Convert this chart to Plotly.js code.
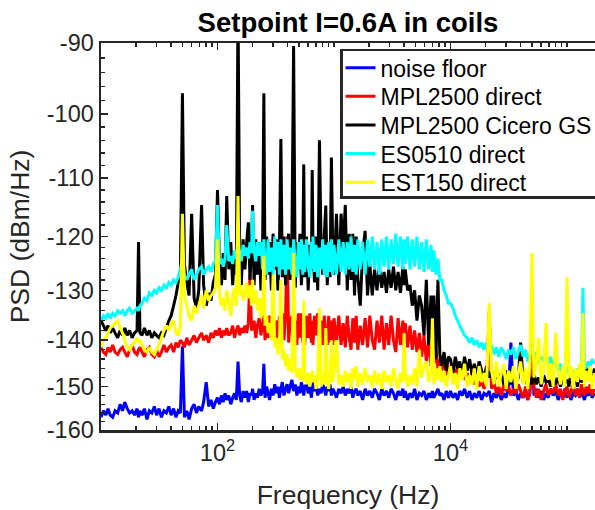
<!DOCTYPE html>
<html>
<head>
<meta charset="utf-8">
<script src="https://cdn.plot.ly/plotly-3.0.1.min.js"></script>
<style>html,body{margin:0;padding:0;background:#fff;}#chart{width:595px;height:510px;}</style>
</head>
<body>
<div id="chart"></div>
<script>
// Frequency grid (Hz)
const freq = [
10,10.5,11,11.5,12, 12.6,13.2,13.9,14.6,15.3, 16,16.8,17.6,18.5,19.4, 20.4,21,21.6,22.5,23.6, 24.8,26,27.3,28.7,30, 31.5,33,34.7,36.4,38.2, 40,42,44,46,48, 50,52,54.5,57,60, 63,66,69,73,76, 80,84,88,92,96,
100,104,108,112,116, 120,125,130,135,140, 145,150,155,160,166, 172,178,184,190,196, 200,206,213,220,228, 236,244,250,256,264, 272,280,290,300,310, 320,330,340,350,360, 372,384,396,408,420, 435,450,465,480,495, 510,525,540,550,560, 580,600,620,640,650, 660,680,700,725,750, 775,800,825,850,875, 900,925,950,975,
1000,1050,1100,1150,1200, 1250,1300,1350,1400,1450, 1500,1550,1600,1680,1760, 1850,1940,2030,2130,2230, 2340,2450,2570,2690,2820, 2950,3090,3240,3390,3550, 3720,3900,4000,4090,4280, 4490,4700,4920,5150,5400, 5650,5920,6200,6500,6800, 7000,7200,7500,7800,8100, 8400,8800,9200,9600,
10000,10500,11000,11500,12000, 12600,13200,13900,14600,15300, 16000,16800,17600,18500,19400, 20400,21500,22500,23600,24800, 26000,27300,28700,30000,31500, 33000,34700,36400,38200,40000, 42000,44000,46000,48000,50000, 52000,54500,57000,60000,63000, 66000,69000,72500,76000,80000, 84000,88000,92000,96000,
100000,104000,108000,113000,118000, 123000,128000,133000,137000,141000, 146000,152000,158000,164000,172000
];

// PSD values (dBm/Hz)
const noiseFloor = [
-157,-155.5,-156.5,-155,-156.5, -157,-155.5,-156,-154,-155.5, -153.5,-155,-156,-155.5,-156.5, -155,-157,-155.5,-156.5,-155, -157.5,-155.5,-156,-154.5,-156.5, -155,-157,-155.5,-156,-154.5, -156.5,-155,-157,-155.5,-156, -141.3,-157,-155.5,-157.5,-155, -154,-156,-154.5,-155.5,-153.5, -149,-154.5,-153,-155,-153.5,
-152.5,-154,-152,-153.5,-151.5, -153,-152,-154,-152.5,-151.5, -153,-144.5,-152,-153.5,-151, -152.5,-151,-153.5,-151.5,-152, -150.5,-153,-151.5,-152.5,-150.5, -152,-151,-145,-152.5,-150, -151.5,-153,-150.5,-152,-149.5, -151.5,-150,-152.5,-150.5,-149, -152,-150.5,-149.5,-151.5,-150, -148.5,-151,-149.5,-152,-150, -151.5,-149,-150.5,-152,-150, -149.5,-151.5,-150,-152.5,-150.5, -149,-151,-150,-152,-150.5, -151.5,-149.5,-150.5,-152,-150, -151,-149.5,-152,-150.5,
-151,-152.5,-150.5,-151.5,-150, -152,-150.5,-151.5,-150,-152.5, -151,-150.5,-152,-151,-153, -150.5,-152,-151,-152.5,-150.5, -151.5,-153,-150.5,-152,-151, -152.5,-150.5,-151.5,-153,-151, -152,-150.5,-152.5,-151,-153, -151.5,-152.5,-150.5,-153,-151.5, -152,-151,-153,-151.5,-152.5, -151,-152.5,-151.5,-150.5,-152, -151.5,-153,-151,-152.5,
-151,-152.5,-151.5,-153,-151, -152,-150.5,-152.5,-151,-153, -151.5,-152.5,-151,-153,-151.5, -152,-151,-153.5,-151.5,-152.5, -151,-153,-151.5,-152.5,-150.5, -140.5,-152,-151,-153,-151.5, -152.5,-151,-153,-151.5,-139.5, -152,-150.5,-152.5,-151,-153, -151.5,-152.5,-150.5,-152,-151, -153,-151.5,-152,-150.5,
-152.5,-151,-153,-151.5,-152, -150.5,-152.5,-151,-152,-153, -151.5,-152,-150.5,-152.5,-151.5
];

const mplDirect = [
-141.5,-142.5,-143,-141.5,-142.5, -141,-142.5,-143,-142,-141.5, -142.5,-143.5,-142,-141,-142.5, -143,-142,-141.5,-142.5,-143.5, -142,-141.5,-143,-143.5,-142, -143.5,-142.5,-141,-142.5,-141.5, -141,-142.5,-140.5,-141.5,-140, -140.5,-141.5,-139.5,-141,-140, -139,-140.5,-139.5,-138.5,-140, -139,-140.5,-138.5,-139.5,-138,
-139,-137.5,-139.5,-138,-139, -137.5,-139,-138.5,-137,-139.5, -138,-137,-139,-137.5,-138.5, -137,-138.5,-136.5,-127,-138, -137.5,-136,-139.5,-137,-135.5, -139,-136.5,-135,-140,-136, -139.5,-135,-137,-134.5,-140, -136,-140.5,-135,-137.5,-134.5, -140,-135,-120,-140.5,-136.5, -135,-140.5,-136,-141,-134.5, -139.5,-134.5,-140.5,-136,-141, -135,-139.5,-134.5,-140.5,-136, -141,-135,-139,-134.5,-140.5, -136,-141,-135,-139.5,-141, -135,-140.5,-136,-141,
-135.5,-140.5,-135,-141,-136.5, -141.5,-135,-139.5,-142,-135.5, -140.5,-135,-142,-137,-141, -135.5,-141.5,-135,-140,-142, -136,-140.5,-135,-142,-136.5, -141,-135,-140,-142.5,-135.5, -141,-136,-142,-136.5,-141.5, -137,-142,-138,-142.5,-138.5, -143.5,-139,-144.5,-140,-145.5, -141,-145,-142,-146,-144, -146.5,-144.5,-147.5,-145.5,
-146.5,-145,-147.5,-146,-148, -146.5,-148.5,-147,-149,-147.5, -149.5,-148,-150,-148.5,-150.5, -149,-134,-150.5,-149,-151.5, -150,-152,-149.5,-151,-150, -152,-150.5,-151.5,-149.5,-151, -152.5,-150,-153,-151.5,-139, -150,-152.5,-150.5,-153,-151, -149.5,-152,-150.5,-151.5,-149.5, -152,-150.5,-153,-151,
-150,-152.5,-151,-149.5,-152, -150.5,-152.5,-149.5,-151,-152, -150,-151.5,-149.5,-152,-150.5
];

const mplCicero = [
-136,-137,-138,-137,-138.5, -137.5,-138.5,-139.5,-138,-139, -137.5,-139,-138,-139.5,-138.5, -138,-121,-138.5,-139,-137.5, -139,-138,-139.5,-138.5,-139, -139.5,-138.5,-139,-137.5,-136, -135,-133,-131,-128.5,-127, -97,-125,-128.5,-131,-116, -131.5,-133.5,-130,-114.5,-129, -133,-130.5,-132,-128.5,-127,
-112,-125,-129,-123,-128, -113,-126,-121,-129,-123, -127,-85,-122,-129,-120.5, -126,-121,-117.5,-128,-122, -114.5,-129,-120.5,-127,-121, -130,-121.5,-97,-128,-120, -127,-121,-130,-119.5,-126, -120.5,-130,-122,-103.8,-127.5, -120,-129,-122,-119.5,-128, -121,-90.4,-129.5,-121,-126, -119.5,-129,-122,-107.8,-127.5, -120,-130,-121.5,-126,-108.7, -122,-128.5,-120,-130,-104, -121.5,-127,-120,-114.6,-129, -121,-127.5,-106.7,-122.5,
-127,-116,-129,-116,-122, -114.5,-130,-119.5,-128,-119.5, -131,-120,-127.5,-133,-123, -119,-131,-125,-131,-126, -130,-125.5,-129.5,-126.5,-130.5, -126,-129.5,-125.5,-130,-126.5, -130.5,-125.5,-129,-126,-130, -129,-133,-130,-136,-131, -133,-139,-128,-141,-131, -143,-131,-144,-128,-143, -145.5,-142.5,-146.5,-143.5,
-144,-147,-143.5,-146,-144.5, -147,-143.5,-146.5,-144,-147.5, -145,-147.5,-144.5,-146.5,-148, -145.5,-148,-146.5,-149,-147, -148.5,-147,-149.5,-146.5,-148, -149.5,-147.5,-149,-148,-140.5, -149,-147.5,-150,-148,-149.5, -147,-149.5,-148,-150,-147.5, -149,-148.5,-150,-147.5,-149.5, -148,-150,-147.5,-149,
-148.5,-150,-147,-149.5,-148, -150,-147.5,-149,-148.5,-147, -145,-148.5,-147,-149,-146
];

const es0510Direct = [
-136,-135,-135.5,-134.5,-135.5, -134.5,-135,-134,-134.5,-134, -135,-134,-133.5,-134.5,-134, -133.5,-134,-133,-132.5,-131.5, -132,-130.5,-131,-130,-130.5, -129.5,-130,-129,-129.5,-128.5, -129,-128,-128.5,-127.5,-126, -124,-127,-128,-127,-126, -128,-127,-126,-125.5,-127, -126,-125.5,-126.5,-125,-124.5,
-114.5,-125,-124,-125.5,-124, -118,-124.5,-123.5,-125,-122.5, -124,-121,-123,-124.5,-121.5, -123.5,-122,-124,-121,-123, -115.5,-122.5,-124.5,-121,-123.5, -121,-126,-120.5,-125.5,-127, -120.5,-126.5,-122,-127,-120, -125.5,-121,-127,-120.5,-126, -121.5,-127,-120.5,-126,-122, -127,-120.5,-125,-127.5,-121, -126,-120.5,-127,-121.5,-126.5, -120.5,-125.5,-127.5,-121,-126, -120,-126.5,-121.5,-127.5,-122, -126,-120.5,-127,-121.5,-127.5, -121,-126.5,-120.5,-127,
-121.5,-127,-120.5,-126.5,-121, -127,-121,-126,-120,-126.5, -121.5,-127,-120.5,-126,-121, -127,-120.5,-125.5,-120,-126, -121,-127,-120.5,-125.5,-120, -126,-120.5,-125,-119.5,-125.5, -120,-126,-120.5,-125,-120, -126,-120.5,-125.5,-120,-126, -121,-126.5,-120.5,-126,-121.5, -126.5,-122.5,-127,-124,-128, -128,-130,-131,-132.5,
-132.5,-133.5,-135,-136,-137, -138,-139,-139.5,-140.5,-139.5, -141,-140,-141.5,-140.5,-142, -140.5,-142.5,-141,-143,-141.5, -143.5,-141.5,-142.5,-144,-142, -143,-141.5,-144,-142.5,-141, -143.5,-142,-144.5,-143,-141.5, -144,-142.5,-145,-143.5,-144.5, -142.5,-145,-143.5,-146,-144.5, -146.5,-145,-147.5,-146,
-147,-145.5,-148,-146.5,-147.5, -146,-147.5,-146,-129.5,-145, -146,-144.5,-145.5,-144,-145
];

const est150Direct = [
-141.5,-140,-139.5,-138.5,-137.5, -137,-136.5,-136,-137.5,-138.5, -140,-141.5,-142,-141,-140.5, -139.5,-140.5,-140,-141,-142, -142.5,-141.5,-142.5,-143,-142, -141,-139.5,-138,-137,-138, -136.5,-136,-138.5,-139,-137, -116,-131,-133,-135,-136, -133,-134.5,-133,-131,-133.5, -130,-132,-131,-130.5,-129.5,
-120.5,-131,-133,-131.5,-134, -130,-132.5,-135,-131,-129.5, -133,-113,-131,-129,-132, -130.5,-128.5,-131.5,-129,-133, -128,-132.5,-130,-134,-131.5, -135.5,-133,-123.5,-137,-135, -138.5,-136.5,-140,-127,-141.5, -139.5,-143,-140.5,-128,-144, -142,-145.5,-143,-146.5,-144, -147,-123,-145.5,-148,-146, -148.5,-146,-149,-132,-147, -149.5,-147,-150,-148,-146.5, -149,-147.5,-150.5,-148,-133.5, -150,-147.5,-149.5,-137.5,-148.5, -150.5,-147.5,-140,-149,
-147,-140,-149.5,-147.5,-150, -146.5,-149,-147,-150.5,-146, -148.5,-145.5,-150,-147,-149.5, -146,-149,-147.5,-150,-146.5, -149.5,-147,-150.5,-146.5,-149, -147.5,-150,-146,-148.5,-150.5, -147,-149,-138.5,-146.5,-150, -147.5,-149.5,-146,-150,-142, -148,-145.5,-144.5,-149,-146.5, -135.5,-149.5,-146,-148.5,-145.5, -149,-146.5,-150,-147.5,
-145.5,-149.5,-147,-150.5,-146, -148.5,-145,-150,-147.5,-149.5, -146,-150.5,-145.5,-149,-147, -150,-132.5,-146.5,-149.5,-144.5, -150,-147,-145,-150.5,-146.5, -149,-145.5,-150.5,-147,-144.5, -149.5,-146,-150.5,-145.5,-123, -148,-145,-139.5,-149.5,-146, -136.5,-148.5,-145,-150,-138.5, -147,-149.5,-145.5,-150,
-127.5,-148,-145.5,-150.5,-146, -149,-145,-148.5,-134.5,-150, -146.5,-149,-145.5,-150.5,-147
];

const seriesNames = ['noise floor', 'MPL2500 direct', 'MPL2500 Cicero GS', 'ES0510 direct', 'EST150 direct'];
const seriesData = [noiseFloor, mplDirect, mplCicero, es0510Direct, est150Direct];
const seriesColors = ['#0000FF', '#FF0000', '#000000', '#00FFFF', '#FFFF00'];

const yTickVals = [-90, -100, -110, -120, -130, -140, -150, -160];
const xTickVals = [100, 10000];
const xTickText = ['10<sup>2</sup>', '10<sup>4</sup>'];

// Axis is logarithmic in |dB|: plot magnitudes, label as negative dB
const traces = seriesData.map((vals, i) => ({
  type: 'scatter',
  mode: 'lines',
  name: seriesNames[i],
  x: freq,
  y: vals.map(v => -v),
  line: {color: seriesColors[i], width: 3, simplify: false},
  hoverinfo: 'skip'
}));

const xMinor = [];
[10, 100, 1000, 10000, 100000].forEach(d => { for (let k = 1; k <= 9; k++) { const v = d * k; if (v > 10 && v !== 100 && v !== 10000) xMinor.push(v); } });
const yMinor = [];
for (let m = 92; m < 160; m += 2) { if (m % 10 !== 0) yMinor.push(m); }

const font = '"Liberation Sans", Arial, Helvetica, sans-serif';
const axisColor = '#262626';

const layout = {
  width: 595, height: 510,
  margin: {l: 101, r: 0, t: 43, b: 80, pad: 0},
  paper_bgcolor: '#ffffff', plot_bgcolor: '#ffffff',
  font: {family: font, color: axisColor},
  showlegend: true,
  title: {
    text: 'Setpoint I=0.6A in coils',
    font: {family: font, size: 27.5, weight: 'bold', color: '#000000'},
    x: 0.5, xref: 'paper', xanchor: 'center',
    y: 1 - 22 / 510, yref: 'container', yanchor: 'middle'
  },
  xaxis: {
    type: 'log', range: [1, 5.2403], autorange: false,
    tickmode: 'array', tickvals: xTickVals, ticktext: xTickText,
    ticks: 'inside', ticklen: 7, tickwidth: 1.5, tickcolor: axisColor,
    showline: true, linecolor: axisColor, linewidth: 2.5, mirror: 'ticks',
    showgrid: false, zeroline: false,
    tickfont: {family: font, size: 23.5, color: axisColor},
    minor: {tickmode: 'array', tickvals: xMinor, ticks: 'inside', ticklen: 4, tickwidth: 1.5, tickcolor: axisColor, showgrid: false},
    title: {text: 'Frequency (Hz)', font: {family: font, size: 26.5, color: axisColor}, standoff: 21},
    automargin: false
  },
  yaxis: {
    type: 'log', range: [Math.log10(160), Math.log10(90)], autorange: false,
    tickmode: 'array', tickvals: yTickVals.map(v => -v), ticktext: yTickVals.map(v => String(v)),
    ticks: 'inside', ticklen: 7, tickwidth: 1.5, tickcolor: axisColor,
    showline: true, linecolor: axisColor, linewidth: 2.5, mirror: false,
    showgrid: false, zeroline: false,
    tickfont: {family: font, size: 23.5, color: axisColor},
    minor: {tickmode: 'array', tickvals: yMinor, ticks: 'inside', ticklen: 4, tickwidth: 1.5, tickcolor: axisColor, showgrid: false},
    title: {text: 'PSD (dBm/Hz)', font: {family: font, size: 26.5, color: axisColor}, standoff: 10},
    automargin: false
  },
  legend: {
    x: 0.998, xanchor: 'right', y: 0.985, yanchor: 'top',
    bgcolor: '#ffffff', bordercolor: axisColor, borderwidth: 2.5,
    font: {family: font, size: 23, color: '#000000'},
    itemwidth: 30, tracegroupgap: 0
  }
};

Plotly.newPlot('chart', traces, layout, {staticPlot: true, displayModeBar: false}).then(() => {
  // tighten legend row spacing / padding to match the reference
  const leg = document.querySelector('#chart .legend');
  if (!leg) return;
  const items = Array.from(leg.querySelectorAll('.traces'));
  const pos = items.map(g => {
    const m = /translate\(\s*([-\d.e]+)[ ,]+([-\d.e]+)\s*\)/.exec(g.getAttribute('transform') || '');
    return m ? [parseFloat(m[1]), parseFloat(m[2])] : null;
  });
  if (pos.some(p => !p) || items.length < 2) return;
  const spacing = 28.6;
  const firstY = pos[0][1] - 5;
  const oldLast = pos[pos.length - 1][1];
  items.forEach((g, i) => g.setAttribute('transform', 'translate(' + (pos[i][0] + 5) + ',' + (firstY + i * spacing) + ')'));
  const newLast = firstY + (items.length - 1) * spacing;
  const bg = leg.querySelector('rect.bg');
  if (bg) {
    const h = parseFloat(bg.getAttribute('height'));
    bg.setAttribute('height', h - (oldLast - newLast) - 8);
    const x = parseFloat(bg.getAttribute('x') || '0');
    const w = parseFloat(bg.getAttribute('width'));
    bg.setAttribute('x', x + 7);
    bg.setAttribute('width', w - 4);
  }
});
</script>
</body>
</html>
